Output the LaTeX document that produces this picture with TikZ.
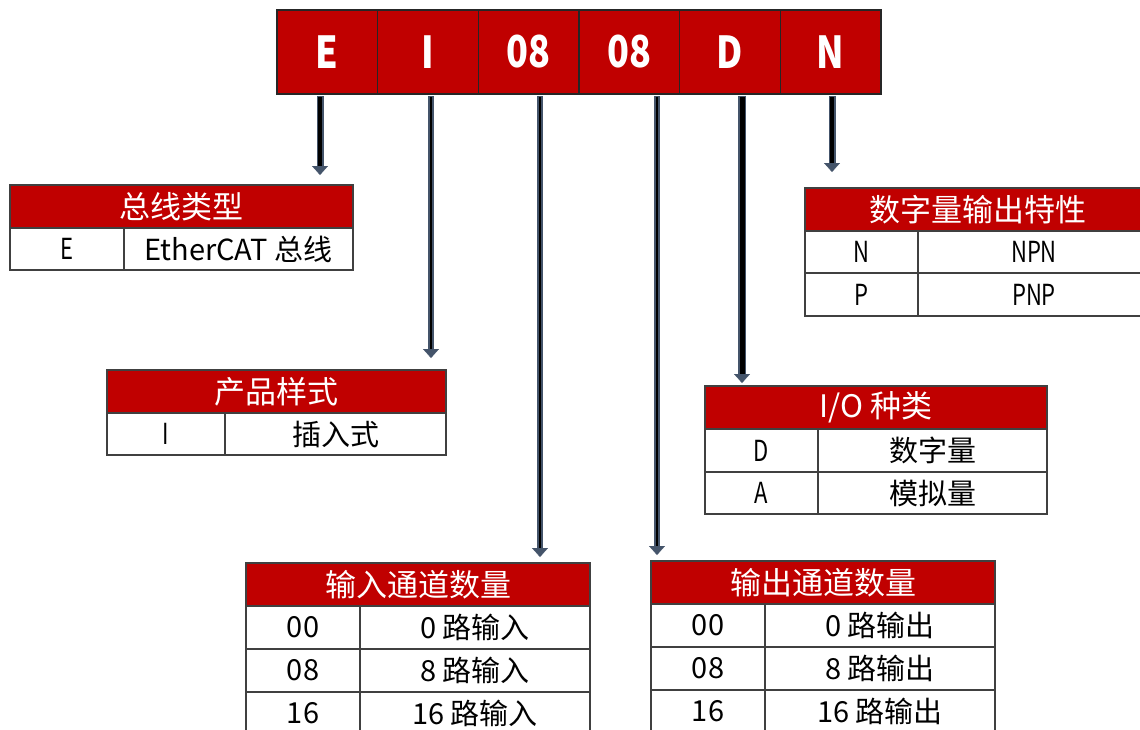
\documentclass[tikz,border=0pt]{standalone}
\usepackage{fontspec}
\setmainfont{Noto Sans CJK SC}
\newfontfamily\barfont[FakeStretch=0.82]{Noto Sans CJK SC}
\newfontfamily\narrowf[FakeStretch=0.76]{Noto Sans CJK SC}
\newcommand{\nl}[1]{{\narrowf #1}}
\usetikzlibrary{arrows.meta}
\definecolor{hdrred}{HTML}{C00000}
\definecolor{gridc}{HTML}{404040}
\definecolor{arrowout}{HTML}{44546A}
\tikzset{
  base/.style={inner sep=0pt, outer sep=0pt, anchor=north west, draw=gridc, line width=1.2pt},
  barcell/.style={base, fill=hdrred, draw=black!85, minimum width=100.67pt, minimum height=84pt,
    text=white, font=\barfont\bfseries\fontsize{44}{44}\selectfont},
  hdr/.style={base, fill=hdrred, text=white, minimum height=43pt, font=\fontsize{31}{33}\selectfont},
  cell/.style={base, fill=white, text=black, minimum height=43pt, font=\fontsize{29}{31}\selectfont},
  ptr/.style={draw=arrowout, line width=#1, shorten <=2pt,
    -{Triangle[width=16pt,length=9pt,line width=0.4pt]}},
  ptrin/.style={draw=black, line width=#1, shorten <=3pt, shorten >=9pt},
}
\begin{document}
\begin{tikzpicture}[x=1pt,y=-1pt]
\useasboundingbox (0,0) rectangle (1140,729);
\clip (0,0) rectangle (1140,729);

% top code bar
\node[barcell] (c1) at (277,10) {E};
\node[barcell] (c2) at (377.67,10) {I};
\node[barcell] (c3) at (478.33,10) {08};
\node[barcell] (c4) at (579,10) {08};
\node[barcell] (c5) at (679.67,10) {D};
\node[barcell] (c6) at (780.33,10) {N};

% table 1: bus type
\node[hdr, minimum width=343pt] (t1h) at (10,185) {总线类型};
\node[cell, minimum width=114pt, minimum height=42pt] (t1a) at (10,228) {\nl{E}};
\node[cell, minimum width=229pt, minimum height=42pt] (t1b) at (124,228) {EtherCAT 总线};

% table 2: product style
\node[hdr, minimum width=339pt] (t2h) at (107,370) {产品样式};
\node[cell, minimum width=118pt, minimum height=42pt] (t2a) at (107,413) {\nl{I}};
\node[cell, minimum width=221pt, minimum height=42pt] (t2b) at (225,413) {插入式};

% table 3: digital output characteristic
\node[hdr, minimum width=345pt] (t3h) at (805,188) {数字量输出特性};
\node[cell, minimum width=113pt, minimum height=42pt] (t3a) at (805,231) {\nl{N}};
\node[cell, minimum width=232pt, minimum height=42pt] (t3b) at (918,231) {\nl{NPN}};
\node[cell, minimum width=113pt, minimum height=43pt] (t3c) at (805,273) {\nl{P}};
\node[cell, minimum width=232pt, minimum height=43pt] (t3d) at (918,273) {\nl{PNP}};

% table 4: I/O type
\node[hdr, minimum width=342pt] (t4h) at (705,386) {I/O 种类};
\node[cell, minimum width=113pt] (t4a) at (705,429) {\nl{D}};
\node[cell, minimum width=229pt] (t4b) at (818,429) {数字量};
\node[cell, minimum width=113pt, minimum height=42pt] (t4c) at (705,472) {\nl{A}};
\node[cell, minimum width=229pt, minimum height=42pt] (t4d) at (818,472) {模拟量};

% table 5: input channels
\node[hdr, minimum width=344pt] (t5h) at (246,563) {输入通道数量};
\node[cell, minimum width=114pt] (t5a) at (246,606) {00};
\node[cell, minimum width=230pt] (t5b) at (360,606) {0 路输入};
\node[cell, minimum width=114pt] (t5c) at (246,649) {08};
\node[cell, minimum width=230pt] (t5d) at (360,649) {8 路输入};
\node[cell, minimum width=114pt] (t5e) at (246,692) {16};
\node[cell, minimum width=230pt] (t5f) at (360,692) {16 路输入};

% table 6: output channels
\node[hdr, minimum width=344pt] (t6h) at (651,561) {输出通道数量};
\node[cell, minimum width=114pt] (t6a) at (651,604) {00};
\node[cell, minimum width=230pt] (t6b) at (765,604) {0 路输出};
\node[cell, minimum width=114pt] (t6c) at (651,647) {08};
\node[cell, minimum width=230pt] (t6d) at (765,647) {8 路输出};
\node[cell, minimum width=114pt] (t6e) at (651,690) {16};
\node[cell, minimum width=230pt] (t6f) at (765,690) {16 路输出};

% arrow end points
\coordinate (aE) at (320,175);
\coordinate (aI) at (431,358);
\coordinate (aIn) at (540,557);
\coordinate (aOut) at (657,555);
\coordinate (aD) at (742,383);
\coordinate (aN) at (832,172);

\draw[ptr=7pt] (c1.south -| aE) -- (aE);
\draw[ptrin=4pt] (c1.south -| aE) -- (aE);
\draw[ptr=5.5pt] (c2.south -| aI) -- (aI);
\draw[ptrin=2.8pt] (c2.south -| aI) -- (aI);
\draw[ptr=5.5pt] (c3.south -| aIn) -- (aIn);
\draw[ptrin=2.8pt] (c3.south -| aIn) -- (aIn);
\draw[ptr=5.5pt] (c4.south -| aOut) -- (aOut);
\draw[ptrin=2.8pt] (c4.south -| aOut) -- (aOut);
\draw[ptr=8pt] (c5.south -| aD) -- (aD);
\draw[ptrin=5pt] (c5.south -| aD) -- (aD);
\draw[ptr=7pt] (c6.south -| aN) -- (aN);
\draw[ptrin=4pt] (c6.south -| aN) -- (aN);
\end{tikzpicture}
\end{document}
